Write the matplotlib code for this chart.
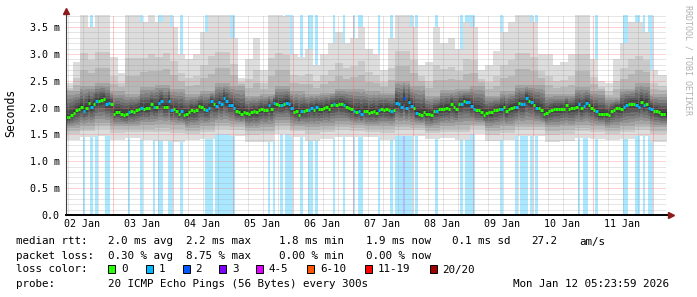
import numpy as np
import matplotlib
matplotlib.use('Agg')
import matplotlib.pyplot as plt
from matplotlib.patches import Rectangle

# time axis: hours since 02 Jan 00:00, graph spans 10 days ending Jan 12 05:24
start_h = 5.4
end_h = 245.4
first_bin = 5

# hourly median rtt (ms), bins starting at hour 5
median_ms = [
    1.82, 1.82, 1.86, 1.90, 1.95, 1.98, 2.02, 1.94, 2.00, 2.09, 2.02, 2.07,
    2.12, 2.13, 2.15, 2.16, 2.07, 2.08, 2.06, 1.89, 1.92, 1.92, 1.89, 1.87,
    1.88, 1.92, 1.93, 1.92, 1.95, 1.97, 1.99, 1.98, 2.00, 1.99, 2.06, 2.02,
    2.01, 2.09, 2.12, 2.02, 2.02, 2.12, 1.96, 1.97, 1.94, 1.89, 1.93, 1.86,
    1.89, 1.92, 1.96, 1.93, 1.96, 2.03, 2.01, 1.97, 1.96, 1.99, 2.12, 2.07,
    2.03, 2.11, 2.06, 2.18, 2.12, 2.05, 2.05, 2.00, 1.94, 1.92, 1.89, 1.92,
    1.90, 1.88, 1.91, 1.94, 1.92, 1.95, 1.97, 1.96, 1.96, 2.05, 1.98, 2.09,
    2.06, 2.05, 2.05, 2.06, 2.09, 2.06, 2.00, 1.92, 1.94, 1.87, 1.93, 1.94,
    1.95, 1.95, 1.99, 1.96, 2.01, 1.98, 1.98, 1.99, 2.01, 1.98, 2.05, 2.06,
    2.05, 2.07, 2.06, 2.05, 2.02, 1.99, 1.97, 1.93, 1.92, 1.94, 1.89, 1.94,
    1.94, 1.90, 1.92, 1.94, 1.90, 1.96, 1.97, 1.96, 1.97, 1.95, 1.93, 1.96,
    2.09, 2.06, 2.02, 2.18, 2.00, 2.11, 2.03, 1.99, 1.90, 1.89, 1.86, 1.91,
    1.89, 1.89, 1.86, 1.94, 1.94, 1.98, 1.97, 1.97, 2.00, 1.98, 2.06, 2.01,
    1.97, 2.07, 2.06, 2.12, 2.10, 2.10, 2.03, 1.98, 1.95, 1.95, 1.92, 1.86,
    1.90, 1.92, 1.92, 1.95, 1.96, 1.98, 1.98, 2.02, 1.93, 1.98, 2.00, 2.02,
    2.01, 2.09, 2.06, 2.06, 2.17, 2.12, 2.10, 2.05, 2.00, 2.00, 1.95, 1.88,
    1.90, 1.93, 1.95, 1.98, 1.97, 1.97, 1.98, 1.98, 2.04, 1.98, 1.99, 2.00,
    2.02, 2.06, 1.99, 2.03, 2.08, 2.05, 2.00, 1.95, 1.94, 1.88, 1.88, 1.89,
    1.88, 1.87, 1.93, 1.96, 2.00, 1.99, 1.98, 2.01, 2.04, 2.06, 2.07, 2.07,
    2.05, 2.02, 2.11, 2.04, 2.07, 2.00, 1.98, 1.93, 1.93, 1.91, 1.89, 1.89,
    1.89,
]

# hours with 1 lost ping, and with 2 lost pings
loss1_hours = [12, 15, 17, 21, 22, 30, 35, 40, 42, 43, 46, 47, 51, 61, 62, 63,
               65, 66, 67, 68, 69, 70, 71, 72, 86, 88, 91, 93, 94, 95, 99, 102,
               103, 105, 112, 116, 120, 122, 123, 130, 135, 137, 138, 139, 141,
               142, 143, 145, 153, 163, 165, 166, 167, 168, 179, 185, 187, 188,
               189, 191, 193, 210, 212, 213, 217, 228, 229, 233, 234, 236, 238, 239]
loss2_hours = [140]

# smoke: highest ping per 3h block
top_ms = [2.45, 2.85, 3.75, 3.5, 3.75, 3.75, 2.95, 2.65, 3.75, 3.75, 3.6, 3.75, 3.6,
          3.75, 3.5, 3.0, 2.9, 3.0, 3.4, 3.75, 3.75, 3.75, 3.3, 2.55, 2.9, 3.3, 2.7,
          3.75, 3.75, 3.7, 3.0, 2.95, 3.1, 2.8, 3.0, 3.2, 3.4, 3.2, 3.3, 3.5,
          3.1, 3.0, 2.7, 3.3, 3.75, 3.75, 3.5, 2.8, 2.85, 3.5, 3.2, 3.3, 3.1,
          3.6, 3.5, 2.7, 2.8, 3.05, 3.4, 3.6, 3.75, 3.75, 3.6, 3.0, 3.0, 2.8, 2.85,
          3.0, 3.75, 3.75, 2.9, 2.5, 2.45, 2.9, 3.2, 3.6, 3.6, 3.4, 2.7, 2.6]
# smoke per 6h block: lowest ping, inner lower and inner upper edge
bottom_ms = [1.40, 1.45, 1.47, 1.40, 1.44, 1.40, 1.38,
             1.36, 1.40, 1.42, 1.50, 1.48, 1.36, 1.36,
             1.50, 1.45, 1.38, 1.42, 1.45, 1.46, 1.45,
             1.40, 1.48, 1.47, 1.42, 1.43, 1.40,
             1.50, 1.37, 1.40, 1.48, 1.47, 1.36, 1.38,
             1.43, 1.42, 1.40, 1.42, 1.47, 1.36]
lower_ms = [1.62, 1.66, 1.72, 1.66, 1.65, 1.68, 1.70,
            1.68, 1.62, 1.66, 1.72, 1.70, 1.62, 1.64,
            1.72, 1.66, 1.64, 1.66, 1.70, 1.68, 1.65,
            1.66, 1.70, 1.68, 1.62, 1.66, 1.68,
            1.70, 1.62, 1.65, 1.70, 1.70, 1.63, 1.65,
            1.68, 1.66, 1.62, 1.66, 1.70, 1.64]
upper_ms = [2.30, 2.40, 2.45, 2.30, 2.25, 2.38, 2.42,
            2.35, 2.25, 2.30, 2.45, 2.40, 2.22, 2.25,
            2.40, 2.30, 2.25, 2.28, 2.35, 2.35, 2.30,
            2.28, 2.50, 2.40, 2.22, 2.32, 2.35,
            2.40, 2.22, 2.30, 2.42, 2.42, 2.25, 2.25,
            2.38, 2.30, 2.18, 2.35, 2.45, 2.25]

day_labels = ['02 Jan', '03 Jan', '04 Jan', '05 Jan', '06 Jan',
              '07 Jan', '08 Jan', '09 Jan', '10 Jan', '11 Jan']
y_ticks = [0.0, 0.5, 1.0, 1.5, 2.0, 2.5, 3.0, 3.5]

loss_labels = ['0', '1', '2', '3', '4-5', '6-10', '11-19', '20/20']
loss_colors = ['#26ff00', '#00b8ff', '#0059ff', '#7e00ff', '#dd00ff',
               '#ff5500', '#ff0000', '#a10000']

rtt_line = ['median rtt:', '2.0 ms avg', '2.2 ms max', '1.8 ms min',
            '1.9 ms now', '0.1 ms sd', '27.2', 'am/s']
loss_line = ['packet loss:', '0.30 % avg', '8.75 % max', '0.00 % min', '0.00 % now']
probe_line = ['probe:', '20 ICMP Echo Pings (56 Bytes) every 300s',
              'Mon Jan 12 05:23:59 2026']

plt.rcParams['font.family'] = ['DejaVu Sans Mono']

W, H = 697, 297
ymax = 3.73
fig = plt.figure(figsize=(W / 100, H / 100), dpi=100)
fig.patch.set_facecolor('white')
ax = fig.add_axes([66 / W, 1 - 215 / H, 600 / W, 200.3 / H])
ax.set_xlim(start_h, end_h)
ax.set_ylim(0, ymax)

hours = np.arange(first_bin, first_bin + len(median_ms))
med = np.array(median_ms)
ti = np.minimum((hours - first_bin) // 3, len(top_ms) - 1)
bi = np.minimum((hours - first_bin) // 6, len(bottom_ms) - 1)
p3 = np.minimum(np.array(lower_ms)[bi], med - 0.05)
p0 = np.minimum(np.array(bottom_ms)[bi], p3 - 0.05)
p16 = np.maximum(np.array(upper_ms)[bi], med + 0.05)
p19 = np.maximum(np.array(top_ms)[ti], p16 + 0.05)
# fill in the 20 sorted pings between the read anchors
p1 = (p0 + p3) / 2
p18 = p16 + 0.45 * (p19 - p16)
ranks = [0, 1, 3, 9.5, 16, 18, 19]
pings = np.array([np.interp(np.arange(20), ranks, v)
                  for v in zip(p0, p1, p3, med, p16, p18, p19)])

# loss background bars
ax.bar(loss1_hours, ymax, width=1, align='edge', color='#aae8ff', lw=0, zorder=1)
ax.bar(loss2_hours, ymax, width=1, align='edge', color='#b4bcff', lw=0, zorder=1)

# smoke
xs = np.append(hours, hours[-1] + 1)
for i in range(1, 11):
    g = (190 / 10 * (10 - i) + 50) / 255
    lo = np.append(pings[:, i - 1], pings[-1, i - 1])
    hi = np.append(pings[:, 20 - i], pings[-1, 20 - i])
    ax.fill_between(xs, lo, hi, step='post', color=(g, g, g), lw=0, zorder=2)

# grid
for k in range(1, 38):
    if k % 5 == 0:
        ax.axhline(k / 10, color='#ff7070', alpha=0.6, lw=0.72, dashes=(1, 1), zorder=3)
    else:
        ax.axhline(k / 10, color='#909090', alpha=0.45, lw=0.72, dashes=(1, 1), zorder=3)
for h in range(6, 246, 6):
    if h % 24 == 0:
        ax.axvline(h, color='#ff6060', alpha=0.7, lw=0.72, dashes=(1, 1), zorder=3)
    else:
        ax.axvline(h, color='#909090', alpha=0.45, lw=0.72, dashes=(1, 1), zorder=3)

# median line coloured by loss
loss = np.zeros(len(hours), int)
loss[np.isin(hours, loss1_hours)] = 1
loss[np.isin(hours, loss2_hours)] = 2
cols = [loss_colors[l] for l in loss]
ax.hlines(med, hours, hours + 1, colors=cols, lw=2.2, zorder=5, capstyle='butt')

# axes
ax.set_yticks(y_ticks)
ax.set_yticklabels(['0.0'] + ['%.1f m' % v for v in y_ticks[1:]])
ax.set_xticks([12 + 24 * k for k in range(len(day_labels))])
ax.set_xticklabels(day_labels)
ax.tick_params(axis='y', length=0, pad=4.5, labelsize=7.2, colors='#000000')
ax.tick_params(axis='x', length=0, pad=3, labelsize=7.2)
for s in ['top', 'right', 'left', 'bottom']:
    ax.spines[s].set_visible(False)
ax.plot([0, 0], [0, 1.015], transform=ax.transAxes, color='#404040', lw=0.8,
        clip_on=False, zorder=6)
ax.plot([0, 1.004], [0, 0], transform=ax.transAxes, color='#000000', lw=1.4,
        clip_on=False, zorder=6)
ax.plot([0], [1.02], marker='^', markersize=4.5, color='#8b1a1a',
        transform=ax.transAxes, clip_on=False, zorder=7)
ax.plot([1.008], [0], marker='>', markersize=4.5, color='#8b1a1a',
        transform=ax.transAxes, clip_on=False, zorder=7)

fig.text(11 / W, 1 - 113 / H, 'Seconds', rotation=90, ha='center', va='center',
         fontsize=8.3)
fig.text(688 / W, 1 - 60 / H, 'RRDTOOL / TOBI OETIKER', rotation=270,
         ha='center', va='center', fontsize=6, color='#b0b0b0')

def put(x, y, s):
    fig.text(x / W, 1 - y / H, s, ha='left', va='baseline', fontsize=7.8)

for x, s in zip([16, 108, 186, 279, 366, 452, 531, 579], rtt_line):
    put(x, 244.5, s)
for x, s in zip([16, 108, 186, 279, 366], loss_line):
    put(x, 258.7, s)
put(16, 272.5, 'loss color:')
box_x = [108.3, 145.7, 182.7, 219.3, 256, 307.3, 365, 430]
for bx, lab, c in zip(box_x, loss_labels, loss_colors):
    fig.add_artist(Rectangle((bx / W, 1 - 273 / H), 7 / W, 8 / H,
                             transform=fig.transFigure, facecolor=c,
                             edgecolor='black', lw=0.7))
    put(bx + 12.5, 272.5, lab)
for x, s in zip([16, 108, 513], probe_line):
    put(x, 287.3, s)

fig.savefig('out.png', dpi=100, facecolor='white')
